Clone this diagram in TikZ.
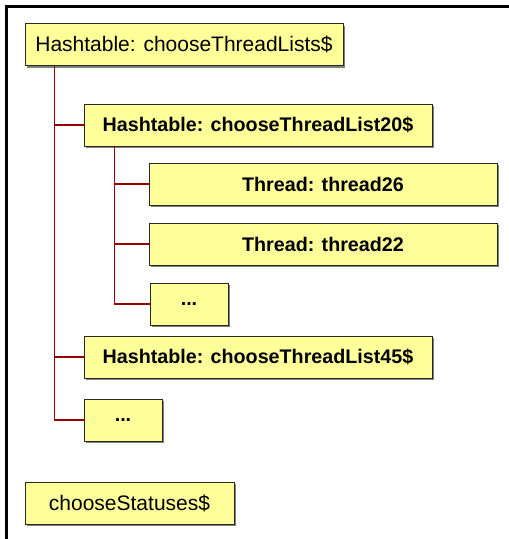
\documentclass[tikz,border=0pt]{standalone}
\usepackage{fontspec}
\setmainfont{Liberation Sans}
\usetikzlibrary{calc,shadows}
\definecolor{boxfill}{RGB}{255,255,153}
\definecolor{boxline}{RGB}{40,40,40}
\definecolor{treeline}{RGB}{153,0,0}
\tikzset{
  itembox/.style={draw=boxline, line width=0.9pt, fill=boxfill, rectangle,
    inner sep=0pt, minimum height=42pt,
    font=\fontsize{21}{25}\selectfont,
    general shadow={fill=black!50, shadow xshift=2pt, shadow yshift=-2pt}},
  bolditem/.style={itembox, font=\fontsize{19.7}{24}\selectfont\bfseries},
  branch/.style={draw=treeline, line width=1.6pt},
  frameline/.style={draw=black, line width=2.6pt}
}
\begin{document}
\begin{tikzpicture}[x=1pt,y=-1pt]
  \useasboundingbox (0,0) rectangle (509,539);
  % frame along the top and the left
  \coordinate (fl) at (6.3,539);
  \coordinate (fc) at (6.3,6.3);
  \coordinate (fr) at (509,6.3);
  \draw[frameline] (fl) -- (fc) -- (fr);

  \node[itembox, minimum width=318pt] (lists) at (184,44.5) {Hashtable: chooseThreadLists\$};
  \node[bolditem, minimum width=348pt] (list20) at (258,125) {Hashtable: chooseThreadList20\$};
  \node[bolditem, minimum width=348pt] (t26) at (323,184) {Thread: thread26};
  \node[bolditem, minimum width=348pt] (t22) at (323,244) {Thread: thread22};
  \node[bolditem, minimum width=78pt] (more20) at (189,304) {...};
  \node[bolditem, minimum width=348pt] (list45) at (258,357) {Hashtable: chooseThreadList45\$};
  \node[bolditem, minimum width=78pt] (morelists) at (123,420) {...};
  \node[itembox, minimum width=209pt] (statuses) at (129.5,503) {chooseStatuses\$};

  % tree connectors
  \coordinate (trunk) at ($(lists.south west)+(30,0)$);
  \coordinate (subtrunk) at ($(list20.south west)+(31,0)$);
  \draw[branch] (trunk) |- (list20.west);
  \draw[branch] (trunk) |- (list45.west);
  \draw[branch] (trunk) |- (morelists.west);
  \draw[branch] (subtrunk) |- (t26.west);
  \draw[branch] (subtrunk) |- (t22.west);
  \draw[branch] (subtrunk) |- (more20.west);
\end{tikzpicture}
\end{document}
